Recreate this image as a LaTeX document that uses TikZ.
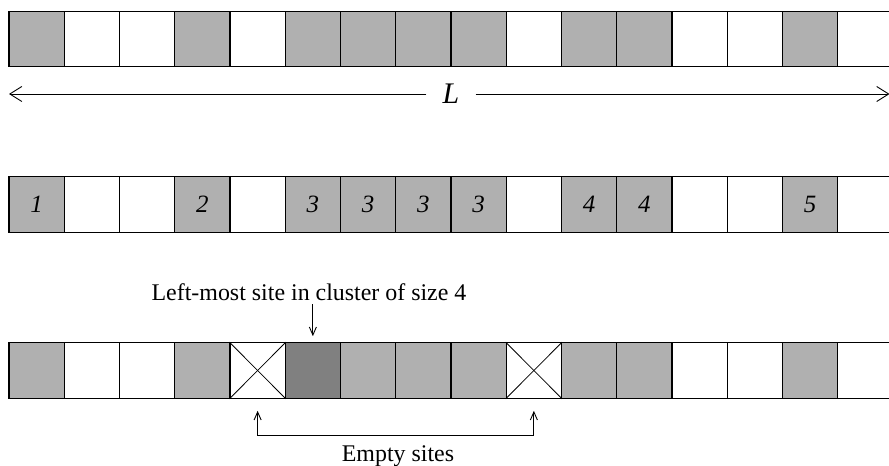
\documentclass[tikz,border=0pt]{standalone}
\usepackage{fontspec}
\setmainfont{Liberation Serif}
\usetikzlibrary{arrows.meta}
\definecolor{site}{RGB}{176,176,176}
\definecolor{seed}{RGB}{128,128,128}

\begin{document}
\begin{tikzpicture}[x=1bp,y=-1bp,
  cell/.style={draw, line width=1.2pt, minimum width=55.25bp, minimum height=55.5bp, inner sep=0pt, font=\fontsize{25}{25}\selectfont\itshape},
  txt/.style={font=\fontsize{24}{24}\selectfont, anchor=base}]
\useasboundingbox (0,0) rectangle (889,466);
\foreach \i/\c in {0/site,1/white,2/white,3/site,4/white,5/site,6/site,7/site,8/site,9/white,10/site,11/site,12/white,13/white,14/site,15/white}
  \node[cell,fill=\c] (top\i) at ({9+55.25*(\i+0.5)},39) {};
\foreach \i/\c/\n in {0/site/1,1/white/,2/white/,3/site/2,4/white/,5/site/3,6/site/3,7/site/3,8/site/3,9/white/,10/site/4,11/site/4,12/white/,13/white/,14/site/5,15/white/}
  \node[cell,fill=\c] (num\i) at ({9+55.25*(\i+0.5)},204.5) {\n};
\foreach \i/\c in {0/site,1/white,2/white,3/site,4/white,5/seed,6/site,7/site,8/site,9/white,10/site,11/site,12/white,13/white,14/site,15/white}
  \node[cell,fill=\c] (bot\i) at ({9+55.25*(\i+0.5)},370.5) {};
\draw [line width=0.8pt] (bot4.north west) -- (bot4.south east);
\draw [line width=0.8pt] (bot4.south west) -- (bot4.north east);
\draw [line width=0.8pt] (bot9.north west) -- (bot9.south east);
\draw [line width=0.8pt] (bot9.south west) -- (bot9.north east);
\node [inner xsep=16bp, font=\fontsize{30}{30}\selectfont\itshape] (L) at (451,94) {L};
\coordinate (Lw) at (9,94);
\coordinate (Le) at (889.5,94);
\draw [>={Straight Barb[length=12bp,width=15bp]},->,line width=0.9pt] (L) -- (Lw);
\draw [>={Straight Barb[length=12bp,width=15bp]},->,line width=0.9pt] (L) -- (Le);
\node [txt] (leftmost) at (309,300.7) {Left-most site in cluster of size 4};
\draw [>={Straight Barb[length=8bp,width=7bp]},->,line width=0.9pt] (leftmost.south -| bot5.north) -- ([yshift=6bp]bot5.north);
\draw [>={Straight Barb[length=8bp,width=7bp]},<->,line width=0.9pt] ([yshift=-12bp]bot4.south) -- ++(0,25) -| ([yshift=-12bp]bot9.south);
\node [txt] (empty) at (398,461) {Empty sites};
\end{tikzpicture}
\end{document}
